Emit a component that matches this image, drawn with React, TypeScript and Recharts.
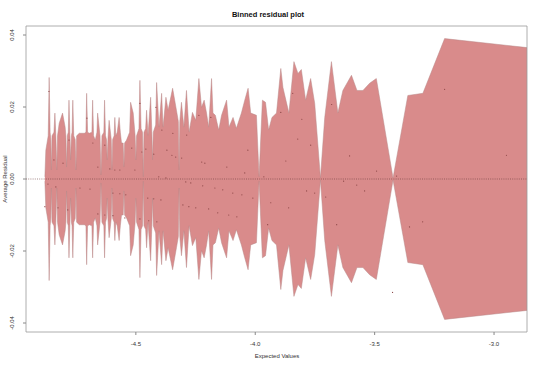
import React from "react";
import {
  ComposedChart,
  Area,
  Scatter,
  XAxis,
  YAxis,
  ReferenceLine,
  ReferenceArea,
} from "recharts";

// expected values at the band's vertices
const bandX = [
  -4.881, -4.877, -4.867, -4.863, -4.859, -4.856, -4.854, -4.851, -4.843, -4.839,
  -4.835, -4.831, -4.828, -4.821, -4.807, -4.796, -4.793, -4.79, -4.787, -4.783,
  -4.78, -4.776, -4.773, -4.77, -4.767, -4.764, -4.76, -4.754, -4.751, -4.748,
  -4.737, -4.716, -4.709, -4.706, -4.702, -4.695, -4.684, -4.681, -4.677, -4.67,
  -4.663, -4.66, -4.65, -4.646, -4.642, -4.634, -4.631, -4.627, -4.623, -4.62,
  -4.617, -4.612, -4.603, -4.6, -4.597, -4.591, -4.588, -4.584, -4.578, -4.57,
  -4.565, -4.56, -4.553, -4.55, -4.547, -4.539, -4.526, -4.522, -4.511, -4.503,
  -4.5, -4.497, -4.487, -4.483, -4.478, -4.472, -4.469, -4.466, -4.459, -4.455,
  -4.449, -4.438, -4.433, -4.43, -4.427, -4.417, -4.413, -4.403, -4.392, -4.386,
  -4.374, -4.365, -4.346, -4.33, -4.322, -4.319, -4.316, -4.309, -4.299, -4.288,
  -4.277, -4.263, -4.249, -4.236, -4.225, -4.214, -4.204, -4.195, -4.183, -4.177,
  -4.167, -4.153, -4.141, -4.12, -4.11, -4.093, -4.079, -4.058, -4.044, -4.03,
  -4.019, -3.995, -3.984, -3.97, -3.957, -3.944, -3.93, -3.911, -3.893, -3.884,
  -3.859, -3.838, -3.821, -3.807, -3.789, -3.768, -3.751, -3.727, -3.709, -3.681,
  -3.654, -3.633, -3.597, -3.574, -3.549, -3.521, -3.493, -3.423, -3.361, -3.298,
  -3.207, -2.862,
];

// +/- 2 se half-width of the band
const bandHalf = [
  0.0006, 0.008, 0.012, 0.0282, 0.013, 0.011, 0.0025, 0.012, 0.013, 0.0183,
  0.012, 0.0025, 0.012, 0.0155, 0.0183, 0.0144, 0.012, 0.0033, 0.012, 0.013,
  0.0219, 0.012, 0.0053, 0.012, 0.013, 0.0219, 0.012, 0.011, 0.0025, 0.012,
  0.0127, 0.0127, 0.013, 0.0238, 0.013, 0.0127, 0.013, 0.0219, 0.012, 0.0108,
  0.013, 0.0183, 0.012, 0.0011, 0.012, 0.013, 0.0219, 0.012, 0.011, 0.0053,
  0.011, 0.0163, 0.011, 0.0025, 0.011, 0.012, 0.0171, 0.012, 0.013, 0.0171,
  0.013, 0.01, 0.01, 0.0033, 0.01, 0.0108, 0.013, 0.0213, 0.0183, 0.012,
  0.0053, 0.012, 0.014, 0.0274, 0.014, 0.013, 0.0006, 0.013, 0.014, 0.0191,
  0.0121, 0.0227, 0.013, 0.0053, 0.013, 0.015, 0.0268, 0.0144, 0.0238, 0.0144,
  0.0227, 0.0191, 0.0252, 0.0191, 0.016, 0.0025, 0.016, 0.0213, 0.0144, 0.0246,
  0.013, 0.0185, 0.0163, 0.0279, 0.0199, 0.0219, 0.0183, 0.0144, 0.0279, 0.0183,
  0.0177, 0.0136, 0.0177, 0.0219, 0.0144, 0.0171, 0.0141, 0.0183, 0.0219, 0.0252,
  0.0183, 0.0177, 0.0006, 0.0219, 0.0213, 0.0136, 0.0171, 0.0183, 0.0307, 0.0254,
  0.0183, 0.0326, 0.0293, 0.0304, 0.0219, 0.0279, 0.021, 0.0003, 0.0171, 0.0326,
  0.0183, 0.0246, 0.0288, 0.0246, 0.0246, 0.0266, 0.0279, 0.0003, 0.0232, 0.0238,
  0.039, 0.0365,
];

// binned average residuals
const pointX = [
  -4.881, -4.868, -4.864, -4.843, -4.835, -4.826, -4.805, -4.785, -4.78, -4.734,
  -4.705, -4.692, -4.68, -4.659, -4.659, -4.63, -4.63, -4.609, -4.596, -4.596,
  -4.588, -4.567, -4.567, -4.546, -4.542, -4.517, -4.504, -4.483, -4.483, -4.475,
  -4.458, -4.446, -4.45, -4.425, -4.425, -4.416, -4.412, -4.404, -4.395, -4.391,
  -4.374, -4.37, -4.349, -4.345, -4.333, -4.308, -4.303, -4.291, -4.287, -4.278,
  -4.27, -4.249, -4.236, -4.224, -4.22, -4.211, -4.195, -4.186, -4.169, -4.157,
  -4.136, -4.119, -4.111, -4.094, -4.077, -4.056, -4.044, -4.031, -4.01, -3.964,
  -3.948, -3.935, -3.893, -3.872, -3.86, -3.843, -3.822, -3.805, -3.785, -3.768,
  -3.751, -3.705, -3.68, -3.659, -3.63, -3.605, -3.575, -3.542, -3.492, -3.425,
  -3.408, -3.354, -3.299, -3.207, -2.948,
];

const pointY = [
  -0.0077, -0.0014, 0.0243, 0.0053, -0.0022, -0.008, 0.0044, -0.0086, 0.0108, -0.0025,
  0.0169, -0.0028, 0.01, 0.0033, -0.0097, 0.0094, -0.01, 0.0028, -0.0039, -0.0102,
  0.0025, 0.0025, -0.0041, -0.0108, -0.0044, 0.0086, 0.0025, 0.021, -0.0111, 0.0075,
  0.0083, -0.0116, -0.0053, 0.0069, -0.0055, 0.0199, -0.0119, 0.0006, -0.0058, 0.0136,
  0.0003, 0.008, 0.0066, 0.0127, 0.0061, 0.0058, -0.0072, -0.0008, 0.0122, -0.0077,
  -0.0011, -0.008, 0.0177, 0.0047, -0.0019, 0.0044, -0.0083, 0.0171, -0.0025, -0.0094,
  -0.003, 0.0033, -0.01, -0.0039, -0.0105, -0.0044, 0.0017, 0.008, -0.0053, 0.0006,
  -0.0127, -0.0066, 0.0185, 0.005, -0.008, 0.0238, 0.0111, 0.0166, -0.0033, 0.0094,
  -0.0039, -0.005, 0.0207, -0.0127, -0.0006, 0.0064, -0.0017, -0.0033, 0.0022, -0.0315,
  0.0008, -0.0133, -0.0119, 0.0249, 0.0066,
];

const xTicks = [-4.5, -4.0, -3.5, -3.0];
const yTicks = [-0.04, -0.02, 0, 0.02, 0.04];

const X_MIN = -4.96;
const X_MAX = -2.862;
const Y_MIN = -0.0425;
const Y_MAX = 0.0425;

const bandData = bandX.map((x, i) => ({ x, band: [-bandHalf[i], bandHalf[i]] }));
const pointData = pointX.map((x, i) => ({ x, y: pointY[i] }));

const FONT = "'Liberation Sans', Arial, sans-serif";

const YTick = (props: any) => {
  const { x, y, payload } = props;
  return (
    <text
      x={x - 7}
      y={y}
      transform={`rotate(-90 ${x - 7} ${y})`}
      textAnchor="middle"
      fontSize={6}
      fill="#333"
      fontFamily={FONT}
    >
      {payload.value.toFixed(2)}
    </text>
  );
};

const XTick = (props: any) => {
  const { x, y, payload } = props;
  return (
    <text
      x={x}
      y={y + 9}
      textAnchor="middle"
      fontSize={6}
      fill="#333"
      fontFamily={FONT}
    >
      {payload.value.toFixed(1)}
    </text>
  );
};

const Dot = (props: any) => (
  <circle cx={props.cx} cy={props.cy} r={0.6} fill="#8a4545" />
);

export default function App() {
  return (
    <div style={{ position: "absolute", left: 0, top: 0, background: "#fff" }}>
      <ComposedChart
        width={540}
        height={366}
        margin={{ top: 26, right: 13, bottom: 0, left: 0 }}
      >
        <text
          x={268}
          y={17}
          textAnchor="middle"
          fontSize={7.5}
          fontWeight="bold"
          fill="#111"
          fontFamily={FONT}
        >
          Binned residual plot
        </text>
        <text
          x={277}
          y={358}
          textAnchor="middle"
          fontSize={6}
          fill="#333"
          fontFamily={FONT}
        >
          Expected Values
        </text>
        <text
          x={7}
          y={179}
          transform="rotate(-90 7 179)"
          textAnchor="middle"
          fontSize={6}
          fill="#333"
          fontFamily={FONT}
        >
          Average Residual
        </text>
        <XAxis
          dataKey="x"
          type="number"
          domain={[X_MIN, X_MAX]}
          ticks={xTicks}
          allowDataOverflow
          height={34}
          axisLine={false}
          tickLine={{ stroke: "#888" }}
          tickSize={3}
          tick={<XTick />}
        />
        <YAxis
          type="number"
          domain={[Y_MIN, Y_MAX]}
          ticks={yTicks}
          allowDataOverflow
          width={26}
          axisLine={false}
          tickLine={{ stroke: "#888" }}
          tickSize={3}
          tick={<YTick />}
        />
        <Area
          data={bandData}
          dataKey="band"
          type="linear"
          fill="#d98b8b"
          fillOpacity={1}
          stroke="#b88888"
          strokeWidth={0.5}
          dot={false}
          activeDot={false}
          isAnimationActive={false}
        />
        <ReferenceLine y={0} stroke="#6a3a3a" strokeDasharray="1 1.2" strokeWidth={0.6} />
        <Scatter
          data={pointData}
          dataKey="y"
          shape={<Dot />}
          isAnimationActive={false}
        />
        <ReferenceArea
          x1={X_MIN}
          x2={X_MAX}
          y1={Y_MIN}
          y2={Y_MAX}
          fill="none"
          stroke="#999"
          strokeWidth={0.8}
        />
      </ComposedChart>
    </div>
  );
}
